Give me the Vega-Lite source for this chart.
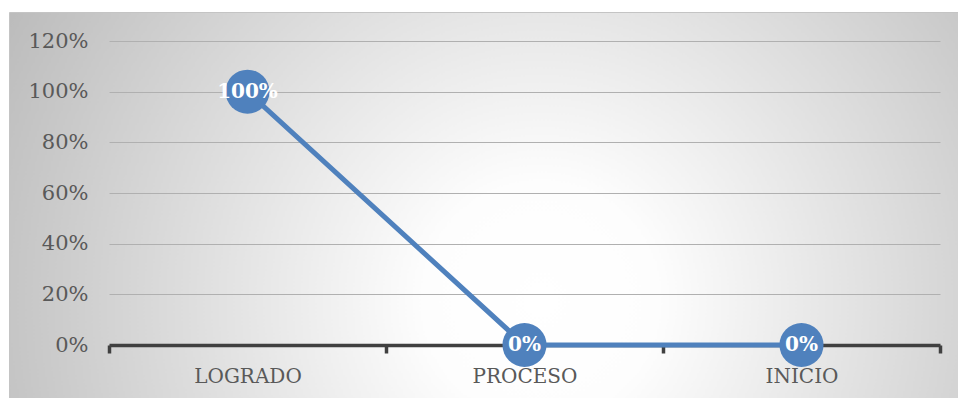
{
  "$schema": "https://vega.github.io/schema/vega-lite/v6.json",
  "width": 949,
  "height": 386,
  "autosize": "none",
  "padding": {"left": 9, "top": 12, "right": 0, "bottom": 0},
  "background": "#ffffff",
  "config": {
    "view": {
      "fill": {
        "gradient": "radial",
        "x1": 0.56, "y1": 0.6, "r1": 0,
        "x2": 0.56, "y2": 0.6, "r2": 0.68,
        "stops": [
          {"offset": 0, "color": "#ffffff"},
          {"offset": 0.18, "color": "#fdfdfd"},
          {"offset": 1, "color": "#b6b6b6"}
        ]
      },
      "stroke": "#c4c4c4",
      "strokeWidth": 1
    },
    "axis": {
      "labelFont": "DejaVu Serif",
      "labelColor": "#595959",
      "title": null
    }
  },
  "data": {
    "values": [
      {"categoria": "LOGRADO", "valor": 1},
      {"categoria": "PROCESO", "valor": 0},
      {"categoria": "INICIO", "valor": 0}
    ]
  },
  "encoding": {
    "x": {
      "field": "categoria",
      "type": "nominal",
      "sort": null,
      "scale": {"range": [100, 931], "paddingInner": 0, "paddingOuter": 0},
      "axis": {
        "orient": "bottom",
        "offset": -53,
        "title": null,
        "labelAngle": 0,
        "labelFontSize": 20,
        "labelPadding": 13,
        "domainColor": "#404040",
        "domainWidth": 3.5,
        "tickColor": "#404040",
        "tickWidth": 3.5,
        "tickSize": 8,
        "tickBand": "extent",
        "grid": false
      }
    },
    "y": {
      "field": "valor",
      "type": "quantitative",
      "scale": {"domain": [0, 1.2], "range": [333, 29], "nice": false},
      "axis": {
        "orient": "left",
        "offset": -100,
        "title": null,
        "values": [0, 0.2, 0.4, 0.6, 0.8, 1, 1.2],
        "format": ".0%",
        "labelFontSize": 21,
        "labelPadding": 21,
        "domain": false,
        "ticks": false,
        "tickSize": 0,
        "grid": true,
        "gridColor": "#b0b0b0",
        "gridWidth": 1,
        "encode": {
          "grid": {"update": {"x": {"value": 0}, "x2": {"value": 831}}}
        }
      }
    }
  },
  "layer": [
    {
      "mark": {"type": "line", "color": "#4f81bd", "strokeWidth": 5}
    },
    {
      "mark": {"type": "circle", "color": "#4f81bd", "size": 1940, "opacity": 1}
    },
    {
      "mark": {
        "type": "text",
        "color": "#ffffff",
        "font": "DejaVu Serif",
        "fontWeight": "bold",
        "fontSize": 20,
        "baseline": "middle",
        "align": "center"
      },
      "encoding": {
        "text": {"field": "valor", "type": "quantitative", "format": ".0%"}
      }
    }
  ]
}
